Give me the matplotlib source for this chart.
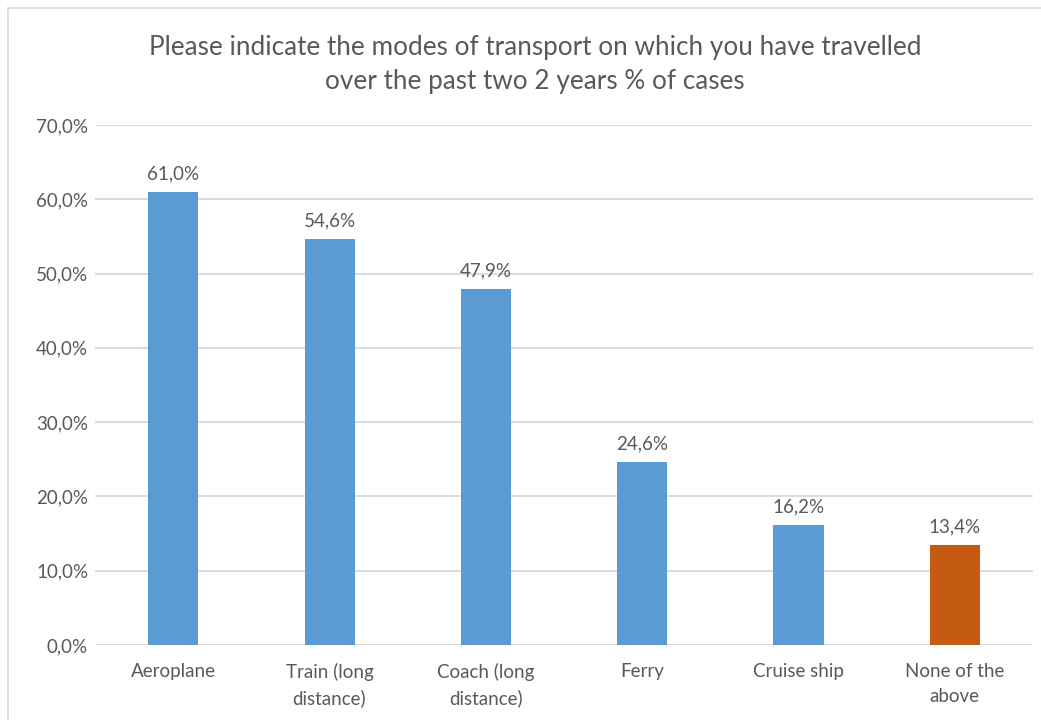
import matplotlib
matplotlib.use("Agg")
import matplotlib.pyplot as plt
from matplotlib.lines import Line2D
import numpy as np

plt.rcParams['font.family'] = ['Lato', 'DejaVu Sans']

categories = ["Aeroplane", "Train (long\ndistance)", "Coach (long\ndistance)",
              "Ferry", "Cruise ship", "None of the\nabove"]
values = [61.0, 54.6, 47.9, 24.6, 16.2, 13.4]
colors = ["#5B9BD5"] * 5 + ["#C55A11"]
yticks = np.arange(0, 71, 10)

txt = "#595959"

fig = plt.figure(figsize=(10.41, 7.2), dpi=100)
ax = fig.add_axes([0.0913, 0.1042, 0.9010, 0.7222])

x = np.arange(len(categories))
ax.bar(x, values, width=0.32, color=colors, zorder=3)
for xi, v in zip(x, values):
    ax.text(xi, v + 1.3, f"{v:.1f}%".replace(".", ","), ha="center", va="bottom",
            fontsize=13.5, color=txt)

ax.set_xlim(-0.5, len(categories) - 0.5)
ax.set_ylim(0, 70)
ax.set_yticks(yticks)
ax.set_yticklabels([f"{t:.1f}%".replace(".", ",") for t in yticks], fontsize=13.5, color=txt)
ax.set_xticks(x)
ax.set_xticklabels(categories, fontsize=13.5, color=txt, linespacing=1.55)
ax.tick_params(length=0, pad=5)
ax.tick_params(axis="x", pad=13)
ax.grid(axis="y", color="#D9D9D9", linewidth=1.3, zorder=0)
for s in ax.spines.values():
    s.set_visible(False)

fig.text(0.514, 0.934, "Please indicate the modes of transport on which you have travelled",
         ha="center", va="center", fontsize=18.8, color=txt)
fig.text(0.514, 0.887, "over the past two 2 years % of cases",
         ha="center", va="center", fontsize=18.8, color=txt)

# chart frame
fig.add_artist(Line2D([8 / 1041, 8 / 1041], [0, 1 - 8 / 720], transform=fig.transFigure,
                      color="#D9D9D9", linewidth=1.2))
fig.add_artist(Line2D([8 / 1041, 1], [1 - 8 / 720, 1 - 8 / 720], transform=fig.transFigure,
                      color="#D9D9D9", linewidth=1.2))

fig.savefig("out.png", dpi=100)
